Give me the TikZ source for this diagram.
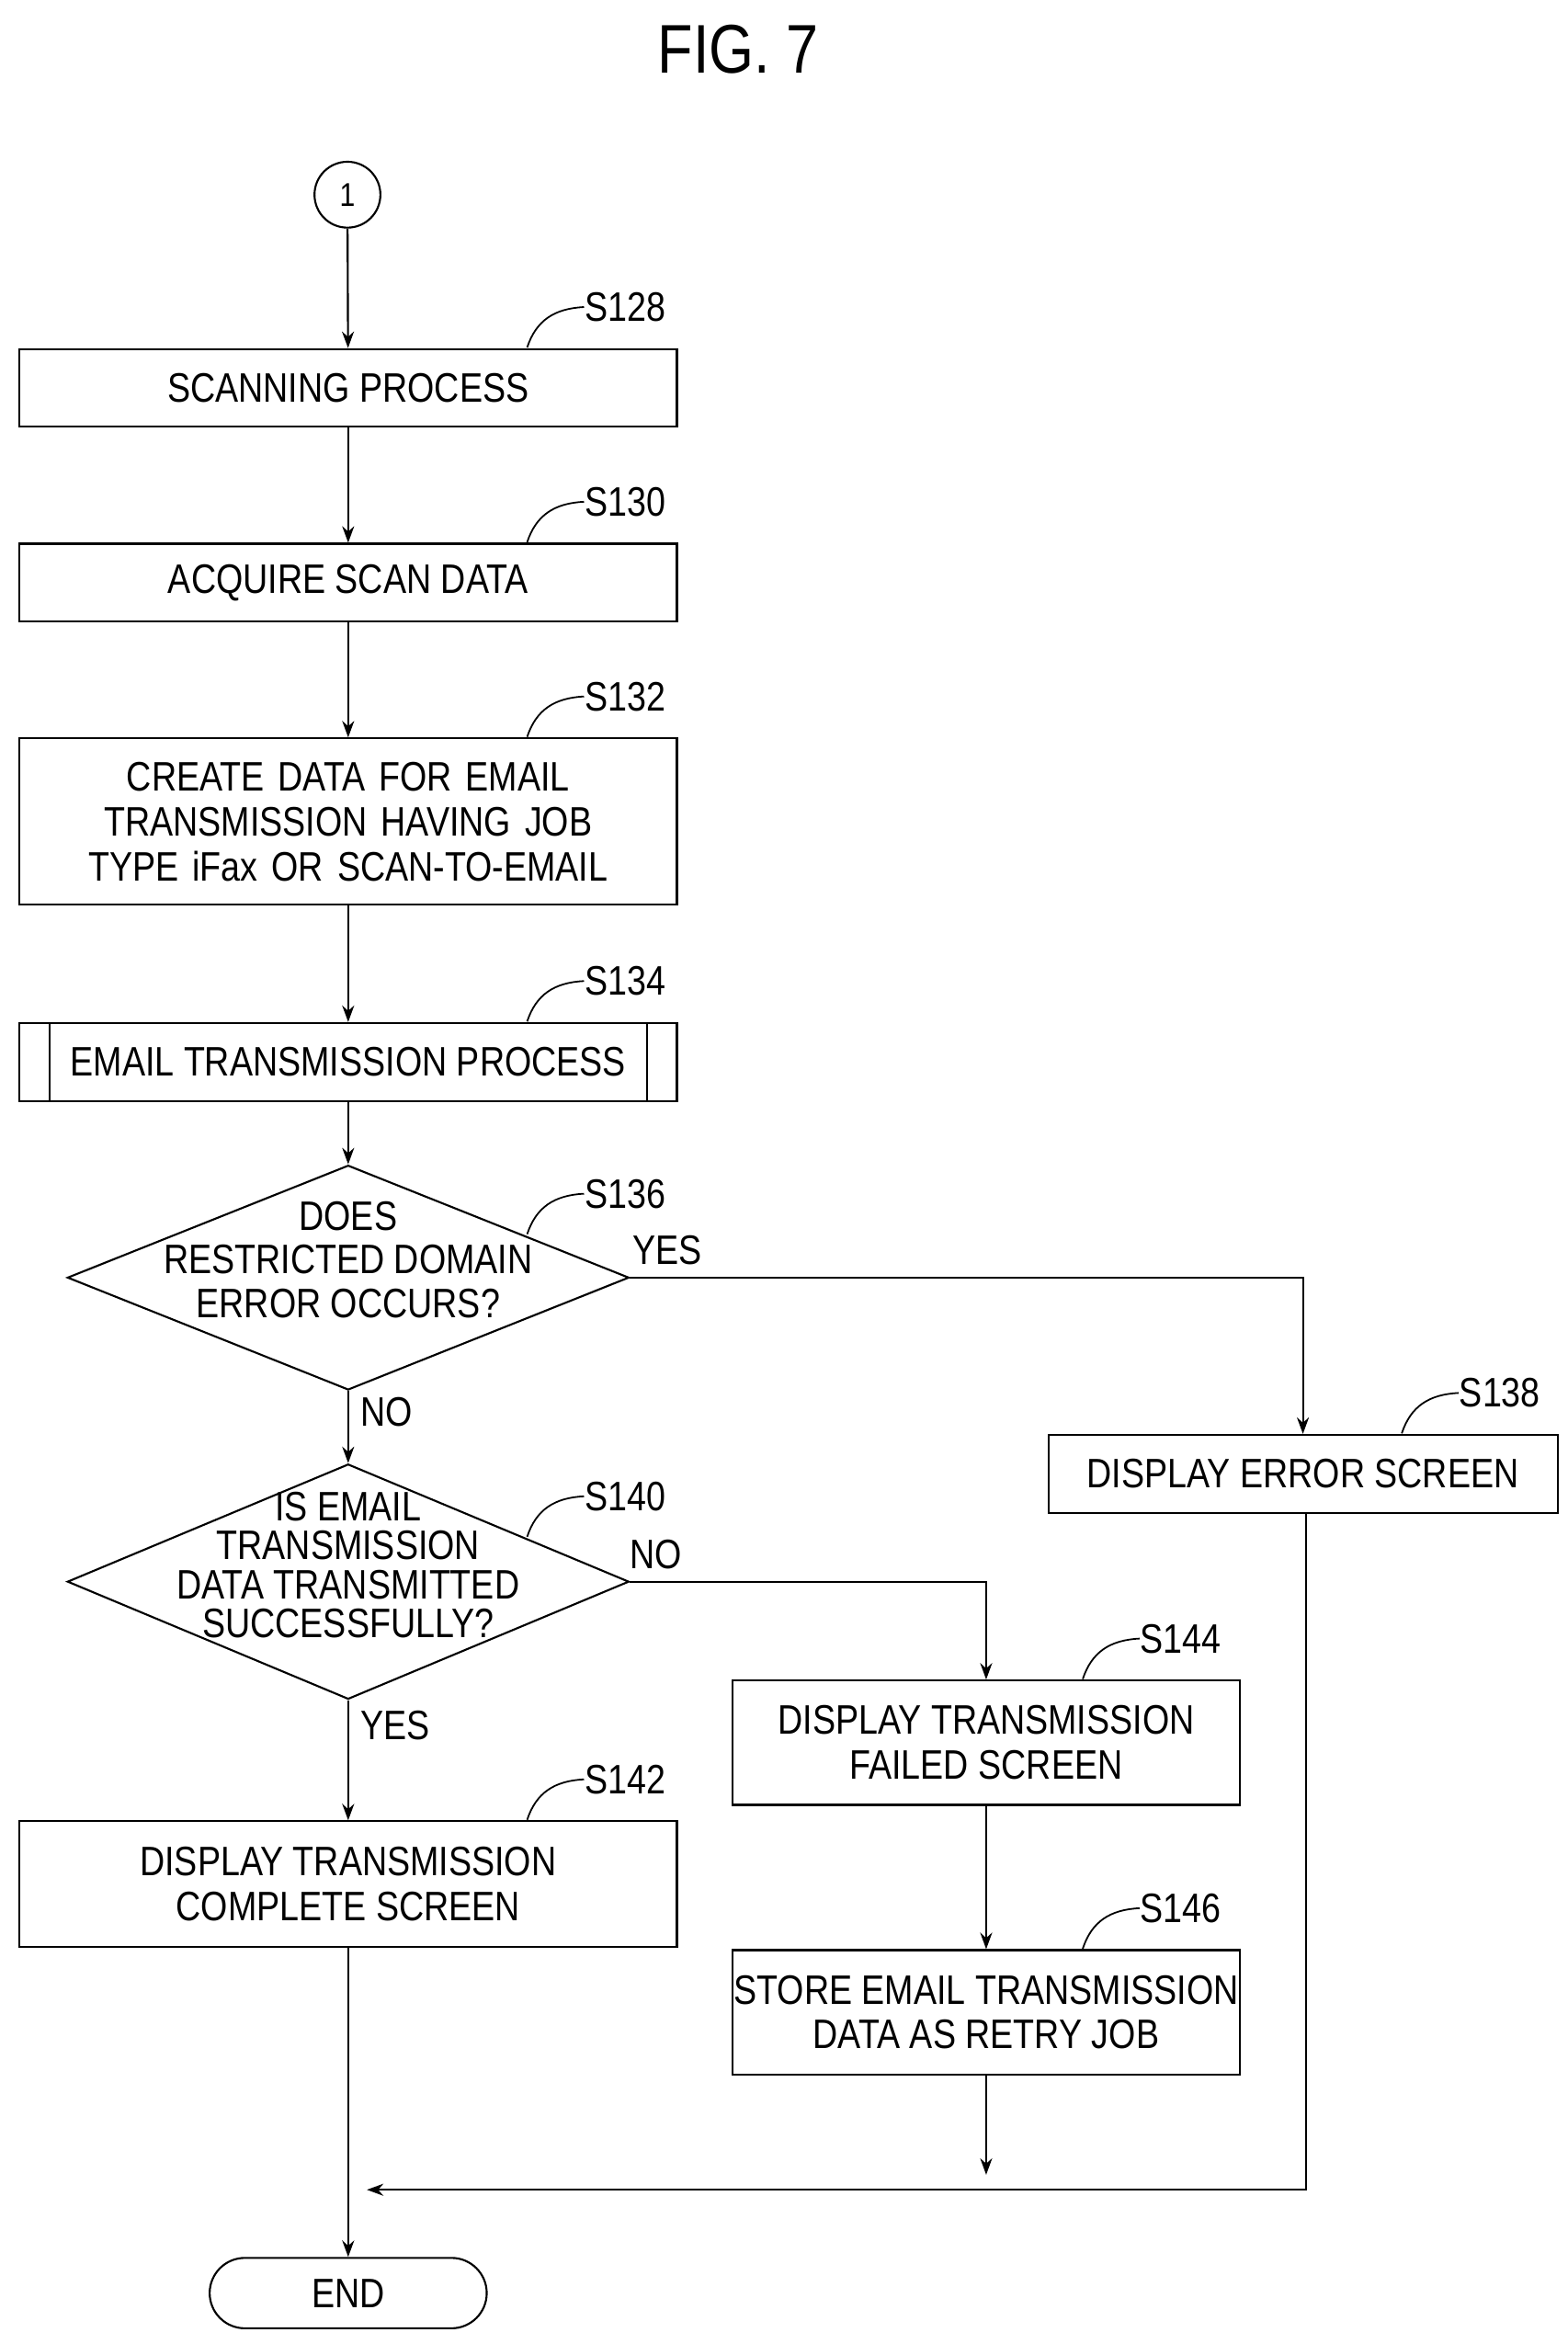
\documentclass[tikz,border=0pt]{standalone}
\usepackage{fontspec}
\setmainfont{Liberation Sans}[FakeStretch=0.84]
\usetikzlibrary{shapes.geometric,shapes.misc,arrows.meta}
\begin{document}
\begin{tikzpicture}[x=1pt,y=-1pt,line width=1.3pt,
  every node/.style={font=\fontsize{27.5}{31}\selectfont, inner sep=0pt},
  box/.style={draw, rectangle, align=center},
  arr/.style={-{Stealth[length=11pt,width=8pt]}},
  lead/.style={line width=1.1pt}]
\useasboundingbox (0,0) rectangle (1047,1565);
\node[font=\fontsize{46}{50}\selectfont] (title) at (493,33) {FIG. 7};
\node[draw,circle,minimum size=44pt] (c1) at (232,130) {\fontsize{22}{24}\selectfont 1};
\node[box,minimum width=439pt,minimum height=52pt] (s128) at (232.5,259) {SCANNING PROCESS};
\node[box,minimum width=439pt,minimum height=52pt] (s130) at (232.5,389) {ACQUIRE SCAN DATA};
\node[box,minimum width=439pt,minimum height=111pt,text width=430pt] (s132) at (232.5,548.5) {CREATE DATA FOR EMAIL\\[-1pt]TRANSMISSION HAVING JOB\\[-1pt]TYPE iFax OR SCAN-TO-EMAIL};
\node[box,minimum width=439pt,minimum height=52pt] (s134) at (232.5,709) {EMAIL TRANSMISSION PROCESS};
\draw (33,683) -- (33,735) (432,683) -- (432,735);
\node[draw,diamond,minimum width=375pt,minimum height=150pt,aspect=2.5] (d136) at (232.5,853) {};
\node[align=center] at (232.5,841) {DOES\\[-2pt]RESTRICTED DOMAIN\\[-2pt]ERROR OCCURS?};
\node[box,minimum width=340pt,minimum height=52pt] (s138) at (870,984) {DISPLAY ERROR SCREEN};
\node[draw,diamond,minimum width=375pt,minimum height=157pt,aspect=2.4] (d140) at (232.5,1056) {};
\node[align=center] at (232.5,1045) {IS EMAIL\\[-5pt]TRANSMISSION\\[-5pt]DATA TRANSMITTED\\[-5pt]SUCCESSFULLY?};
\node[box,minimum width=339pt,minimum height=83pt] (s144) at (658.5,1163.5) {DISPLAY TRANSMISSION\\[-1pt]FAILED SCREEN};
\node[box,minimum width=339pt,minimum height=83pt] (s146) at (658.5,1343.5) {STORE EMAIL TRANSMISSION\\[-1pt]DATA AS RETRY JOB};
\node[box,minimum width=439pt,minimum height=84pt] (s142) at (232.5,1258) {DISPLAY TRANSMISSION\\[-1pt]COMPLETE SCREEN};
\node[draw,rounded rectangle,minimum width=185pt,minimum height=47pt] (end) at (232.5,1531) {END};
\coordinate (m3) at (872,1462);
\coordinate (m1) at (658.5,1452);
\draw[arr] (c1) -- (s128);
\draw[arr] (s128) -- (s130);
\draw[arr] (s130) -- (s132);
\draw[arr] (s132) -- (s134);
\draw[arr] (s134) -- (d136);
\draw[arr] (d136.east) -| (s138.north);
\draw[arr] (d136.south) -- (d140.north);
\draw[arr] (d140.east) -| (s144.north);
\draw[arr] (d140.south) -- (s142.north);
\draw[arr] (s144) -- (s146);
\draw[arr] (s146.south) -- (m1);
\draw[arr] (s138.south -| m3) -- (m3) -- (245,1462);
\draw[arr] (s142.south) -- (end.north);
\node[anchor=west] at (422,835) {YES};
\node[anchor=west] at (240,943) {NO};
\node[anchor=west] at (420,1038) {NO};
\node[anchor=west] at (240,1152) {YES};
\newcommand{\stp}[3]{\draw[lead] (#1,#2) .. controls (#1+6,#2-18) and (#1+18,#2-26) .. (#1+38,#2-27) node[anchor=west]{#3};}
\stp{352}{232}{S128}
\stp{352}{362}{S130}
\stp{352}{492}{S132}
\stp{352}{682}{S134}
\stp{352}{824}{S136}
\stp{352}{1026}{S140}
\stp{936}{957}{S138}
\stp{723}{1121}{S144}
\stp{352}{1215}{S142}
\stp{723}{1301}{S146}
\end{tikzpicture}
\end{document}
